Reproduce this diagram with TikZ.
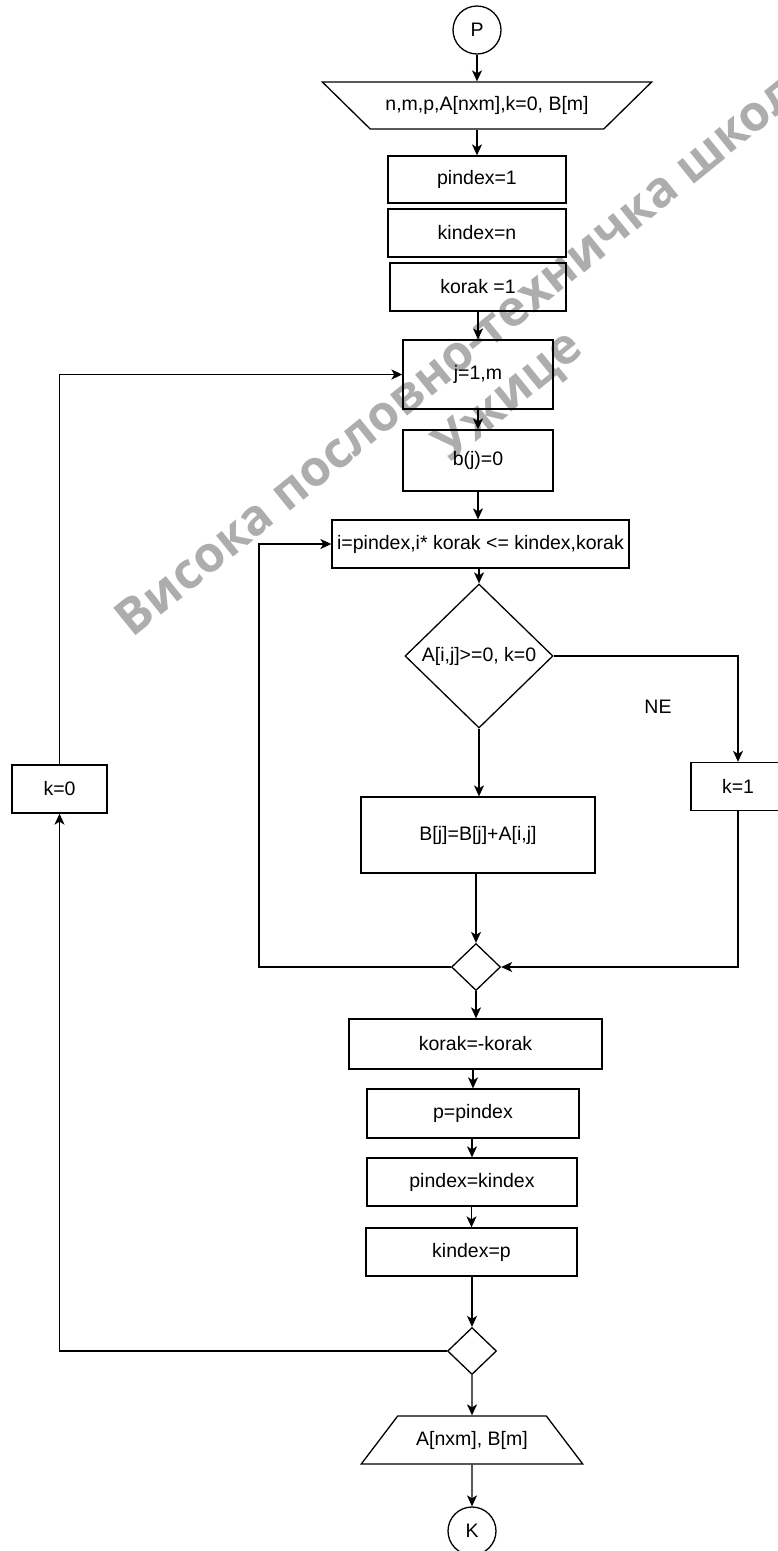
\documentclass[tikz,border=0pt]{standalone}
\usepackage{fontspec}
\setmainfont{Liberation Sans}
\newfontfamily\wmfont{Open Sans}
\usepackage{tikz}
\usetikzlibrary{calc}
\usetikzlibrary{shapes.geometric,arrows.meta}
\tikzstyle{blok} = [draw, rectangle, inner sep=0pt]
\tikzstyle{kraj} = [draw, circle, inner sep=0pt, minimum size=48pt]
\tikzstyle{uslov} = [draw, diamond, inner sep=0pt, minimum width=148pt, minimum height=144pt]
\tikzstyle{spoj} = [draw, diamond, inner sep=0pt, minimum width=49pt, minimum height=47pt]
\tikzstyle{ulaz} = [draw, trapezium, shape border rotate=180, trapezium stretches=true,
	trapezium left angle=30, trapezium right angle=30, minimum width=330pt, minimum height=47pt]
\tikzstyle{izlaz} = [draw, trapezium, trapezium stretches=true,
	trapezium left angle=40.6, trapezium right angle=40.6, minimum width=222pt, minimum height=48pt]
\tikzstyle{zig} = [rotate=39, text=black, text opacity=0.32, align=center,
	font=\wmfont\bfseries\fontsize{49.5}{63}\selectfont]

\begin{document}
\begin{tikzpicture}[x=1pt,y=-1pt,line width=1.3pt,>={Stealth[length=11pt,width=10pt,inset=3pt]},
	font=\fontsize{19.5}{23}\selectfont]
   \useasboundingbox (0,0) rectangle (778,1551);
   \node[kraj] (P) at (477,30) {P};
   \node[ulaz] (ul) at (487,105.5) {n,m,p,A[nxm],k=0, B[m]};
   \node[blok, minimum width=178pt, minimum height=47pt] (pin1) at (477,179.5) {pindex=1};
   \node[blok, minimum width=178pt, minimum height=48pt] (kin1) at (477,233) {kindex=n};
   \node[blok, minimum width=176pt, minimum height=48pt] (kor1) at (478,287) {korak =1};
   \node[blok, minimum width=150pt, minimum height=69pt] (cj) at (478,374.5) {j=1,m};
   \node[blok, minimum width=150pt, minimum height=61pt] (bj0) at (478,460.5) {b(j)=0};
   \node[blok, minimum width=297pt, minimum height=48pt] (ci) at (480.5,544) {i=pindex,i* korak <= kindex,korak};
   \node[uslov] (us) at (479,656) {A[i,j]>=0, k=0};
   \node (ne) at (658,707) {NE};
   \node[blok, minimum width=94pt, minimum height=48pt] (k1) at (738,786.5) {k=1};
   \node[blok, minimum width=95pt, minimum height=48pt] (k0) at (59.5,789) {k=0};
   \node[blok, minimum width=234pt, minimum height=76pt] (sab) at (478,835) {B[j]=B[j]+A[i,j]};
   \node[spoj] (s1) at (476,967) {};
   \node[blok, minimum width=253pt, minimum height=50pt] (kor2) at (475.5,1044) {korak=-korak};
   \node[blok, minimum width=212pt, minimum height=49pt] (ppi) at (473,1113.5) {p=pindex};
   \node[blok, minimum width=210pt, minimum height=48pt] (pik) at (472,1182) {pindex=kindex};
   \node[blok, minimum width=211pt, minimum height=48pt] (kip) at (471.5,1252) {kindex=p};
   \node[spoj] (s2) at (472,1351) {};
   \node[izlaz] (iz) at (472,1440) {A[nxm], B[m]};
   \node[kraj] (K) at (472,1531) {K};
   \coordinate (lpi) at (259,544);

   \draw[->] (P) -- (P |- ul.north);
   \draw[->] (ul.south -| pin1) -- (pin1.north);
   \draw[->] (kor1.south) -- (kor1.south |- cj.north);
   \draw[->] (cj) -- (bj0);
   \draw[->] (bj0.south) -- (bj0.south |- ci.north);
   \draw[->] (ci.south -| us) -- (us.north);
   \draw[->] (us.south) -- (us.south |- sab.north);
   \draw[->] (us.east) -| (k1.north);
   \draw[->] (sab.south -| s1) -- (s1.north);
   \draw[->] (k1.south) |- (s1.east);
   \draw[->] (s1.west) -| (lpi) -- (ci.west);
   \draw[->] (s1.south) -- (s1.south |- kor2.north);
   \draw[->] (kor2.south -| ppi) -- (ppi.north);
   \draw[->] (ppi.south -| pik) -- (pik.north);
   \draw[->] (pik.south -| kip) -- (kip.north);
   \draw[->] (kip.south -| s2) -- (s2.north);
   \draw[->] (s2.west) -| (k0.south);
   \draw[->] (k0.north) |- (cj.west);
   \draw[->] (s2.south) -- (iz.north);
   \draw[->] (iz.south) -- (K.north);

   \node[zig] (wm) at (490,373) {Висока пословно-техничка школа\\Ужице};
\end{tikzpicture}
\end{document}
